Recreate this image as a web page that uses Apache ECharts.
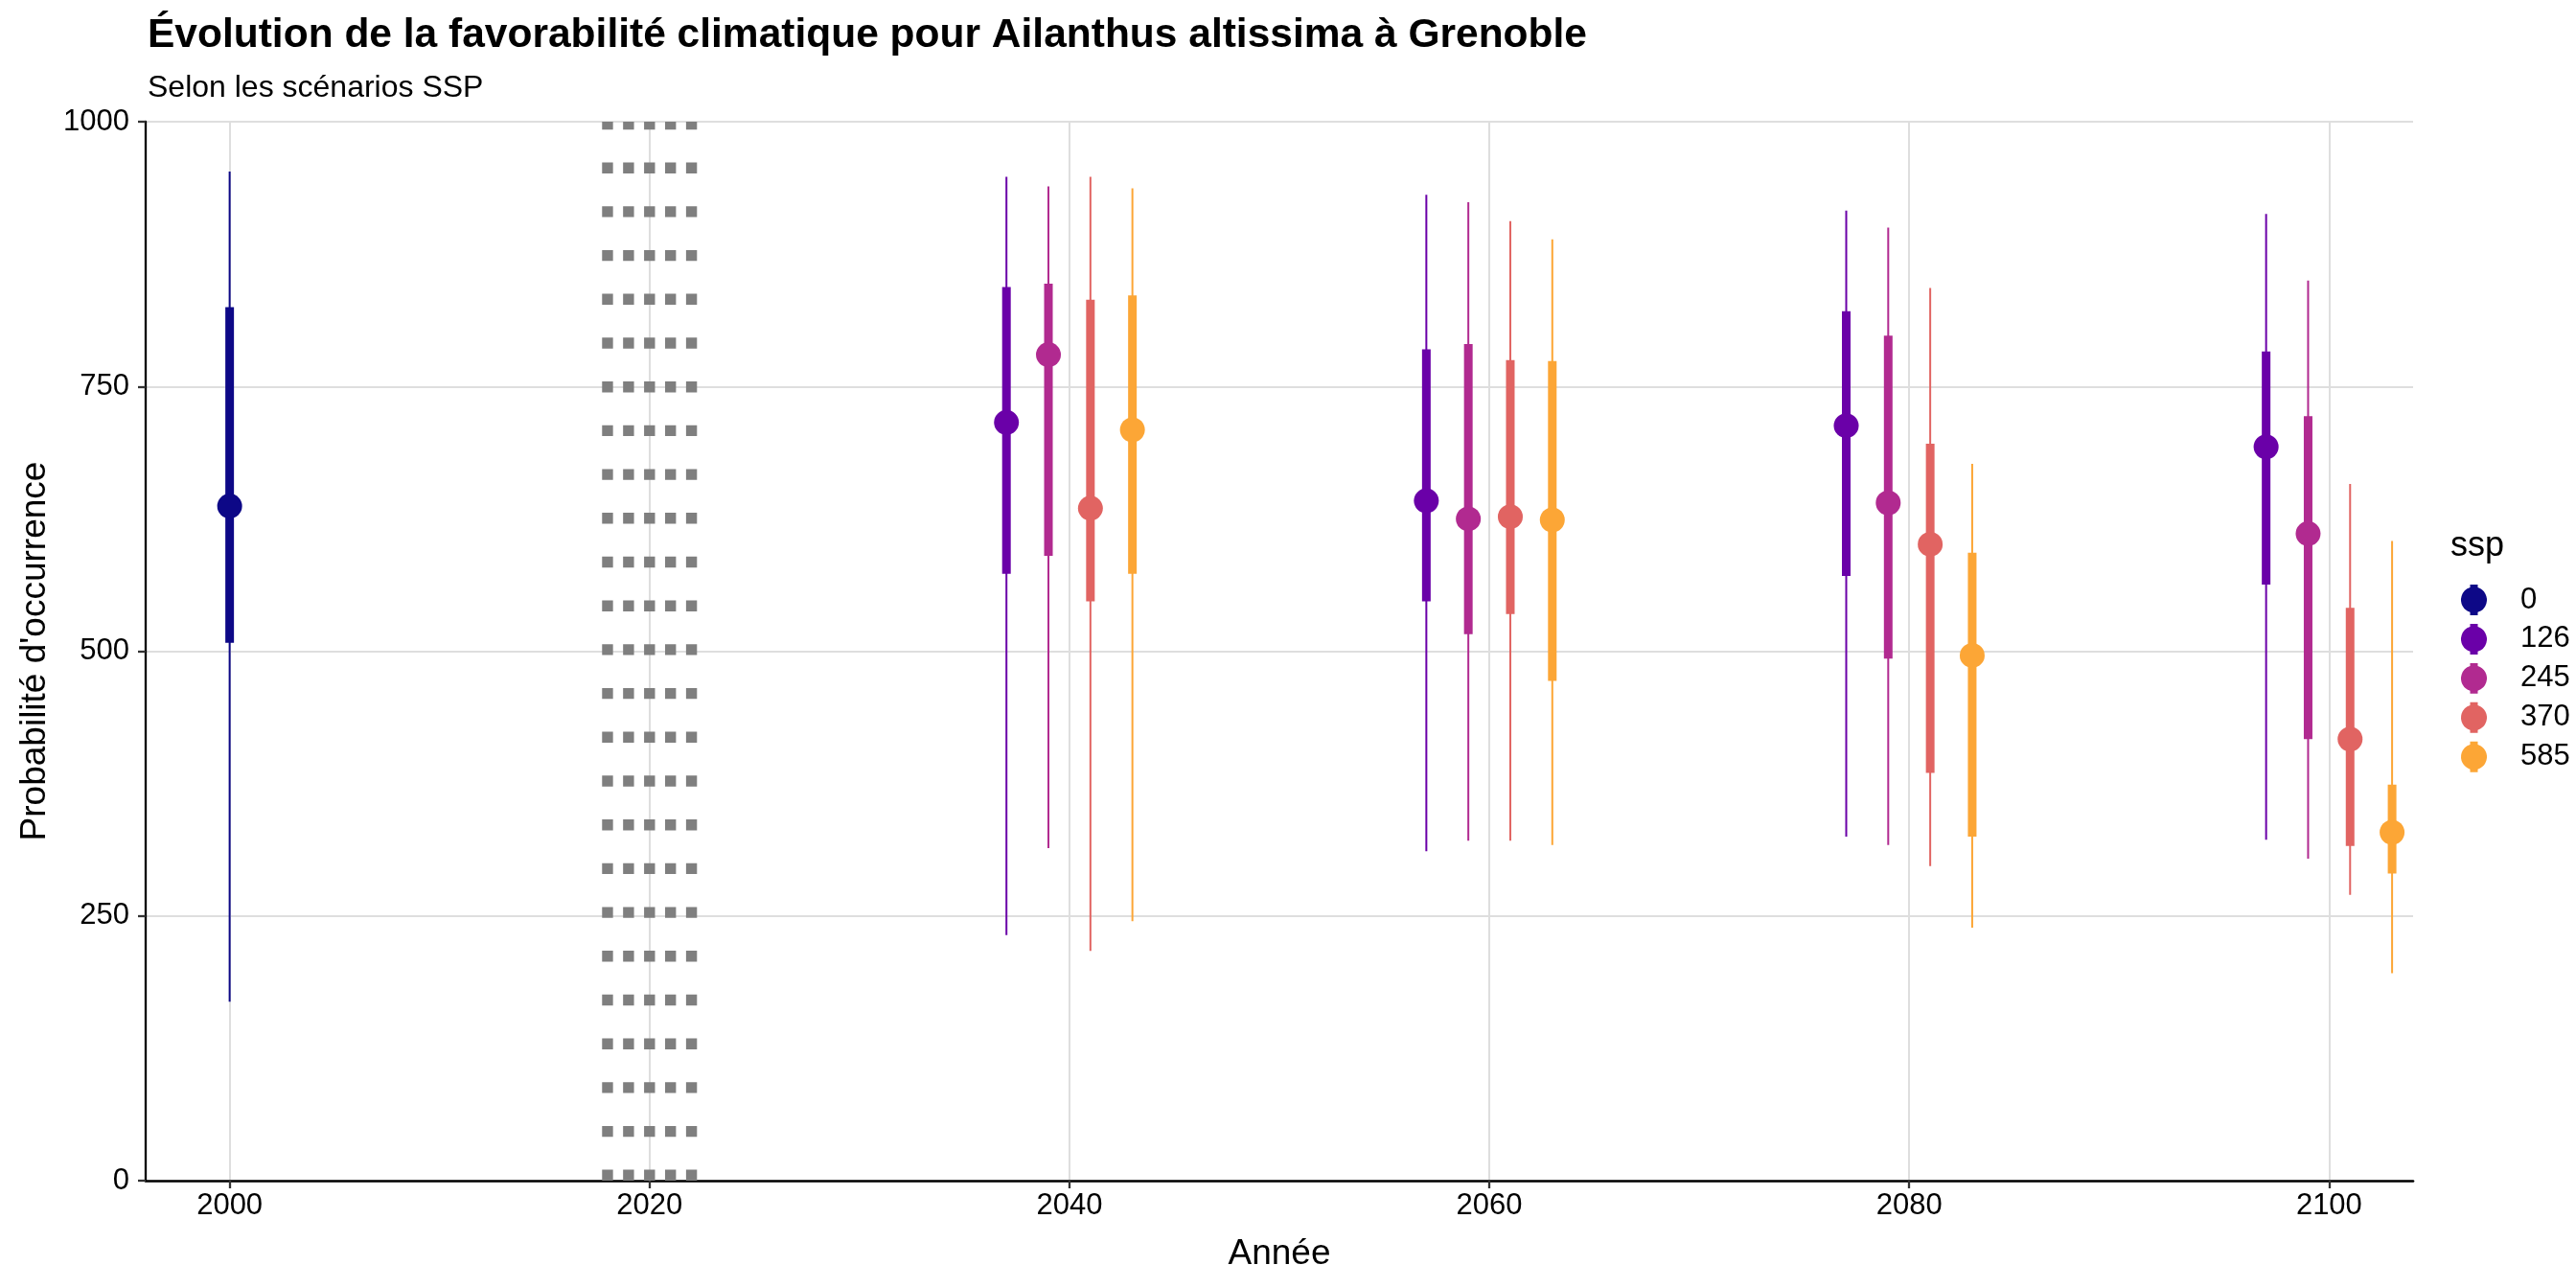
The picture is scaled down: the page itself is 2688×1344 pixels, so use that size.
<!DOCTYPE html>
<html>
<head>
<meta charset="utf-8">
<script src="https://cdn.jsdelivr.net/npm/echarts@6/dist/echarts.min.js"></script>
<style>
  html, body { margin: 0; padding: 0; background: #fff; }
  #chart { width: 2688px; height: 1344px; }
</style>
</head>
<body>
<div id="chart"></div>
<script>
// scenarios and periods
const sspLevels = ["0", "126", "245", "370", "585"];
const baselineYears = [2000];
const futureYears = [2040, 2060, 2080, 2100];
const separatorYears = [2018, 2019, 2020, 2021, 2022];

// one row per period: [median, inner low, inner high, outer low, outer high]
const ssp0 = [[637, 508, 825, 169, 953]];
const ssp126 = [
  [716, 573, 844, 232, 948],
  [642, 547, 785, 311, 931],
  [713, 571, 821, 325, 916],
  [693, 563, 783, 322, 913]
];
const ssp245 = [
  [780, 590, 847, 314, 939],
  [625, 516, 790, 321, 924],
  [640, 493, 798, 317, 900],
  [611, 417, 722, 304, 850]
];
const ssp370 = [
  [635, 547, 832, 217, 948],
  [627, 535, 775, 321, 906],
  [601, 385, 696, 297, 843],
  [417, 316, 541, 270, 658]
];
const ssp585 = [
  [709, 573, 836, 245, 937],
  [624, 472, 774, 317, 889],
  [496, 325, 593, 239, 677],
  [329, 290, 374, 196, 604]
];

const xTicks = [2000, 2020, 2040, 2060, 2080, 2100];

const sspColors = ["#0D0887", "#6A00A8", "#B12A90", "#E16462", "#FCA636"];
const FONT = '"Liberation Sans", Arial, sans-serif';
const DODGE = 2; // years between dodged scenarios

const chart = echarts.init(document.getElementById("chart"));

function buildRows(years, rows, offset) {
  return rows.map((r, i) => [years[i] + offset, ...r]);
}

const sspRows = [
  buildRows(baselineYears, ssp0, 0),
  buildRows(futureYears, ssp126, -1.5 * DODGE),
  buildRows(futureYears, ssp245, -0.5 * DODGE),
  buildRows(futureYears, ssp370, 0.5 * DODGE),
  buildRows(futureYears, ssp585, 1.5 * DODGE)
];

function renderRange(params, api) {
  const x = api.value(0);
  const mid = api.coord([x, api.value(1)]);
  const qLo = api.coord([x, api.value(2)]);
  const qHi = api.coord([x, api.value(3)]);
  const lo = api.coord([x, api.value(4)]);
  const hi = api.coord([x, api.value(5)]);
  const color = api.visual("color");
  return {
    type: "group",
    children: [
      { type: "line", shape: { x1: lo[0], y1: lo[1], x2: hi[0], y2: hi[1] }, style: { stroke: color, lineWidth: 2 } },
      { type: "line", shape: { x1: qLo[0], y1: qLo[1], x2: qHi[0], y2: qHi[1] }, style: { stroke: color, lineWidth: 9 } },
      { type: "circle", shape: { cx: mid[0], cy: mid[1], r: 13 }, style: { fill: color } }
    ]
  };
}

// pointrange-like legend key: circle with a short bar through it
const keyIcon = "path://M9.5,0H17.5V3.1A13.5,13.5 0 0 1 17.5,28.9V32H9.5V28.9A13.5,13.5 0 0 1 9.5,3.1Z";

const separatorSeries = separatorYears.map((yr) => ({
  type: "line",
  name: "sep" + yr,
  silent: true,
  symbol: "none",
  data: [[yr, 0], [yr, 1000]],
  lineStyle: { color: "#7f7f7f", width: 11.4, type: [11.4, 34.3], cap: "butt" },
  z: 1
}));

const rangeSeries = sspLevels.map((lvl, i) => ({
  type: "custom",
  name: lvl,
  renderItem: renderRange,
  itemStyle: { color: sspColors[i] },
  encode: { x: 0, y: [1, 2, 3, 4, 5] },
  data: sspRows[i],
  z: 3
}));

const plain = (v) => String(v);

const options = {
  animation: false,
  backgroundColor: "#fff",
  textStyle: { fontFamily: FONT },
  grid: { left: 152, right: 170, top: 127, bottom: 112, containLabel: false },
  xAxis: {
    type: "value",
    min: 1996,
    max: 2104,
    name: "Année",
    nameLocation: "middle",
    nameGap: 58,
    nameTextStyle: { fontSize: 37, color: "#000", fontFamily: FONT },
    axisLine: { show: true, onZero: false, lineStyle: { color: "#000", width: 2.7 } },
    axisTick: { show: true, length: 8, customValues: xTicks, lineStyle: { color: "#333", width: 2.3 } },
    axisLabel: { customValues: xTicks, formatter: plain, fontSize: 31, color: "#000", margin: 11, fontFamily: FONT },
    splitLine: { show: true, lineStyle: { color: "#dedede", width: 2 } }
  },
  yAxis: {
    type: "value",
    min: 0,
    max: 1000,
    interval: 250,
    name: "Probabilité d'occurrence",
    nameLocation: "middle",
    nameGap: 93,
    nameTextStyle: { fontSize: 37, color: "#000", fontFamily: FONT },
    axisLine: { show: true, lineStyle: { color: "#000", width: 2.3 } },
    axisTick: { show: true, length: 8, lineStyle: { color: "#333", width: 2.3 } },
    axisLabel: { formatter: plain, fontSize: 31, color: "#000", margin: 17, fontFamily: FONT },
    splitLine: { show: true, lineStyle: { color: "#dedede", width: 2 } }
  },
  legend: {
    data: sspLevels,
    orient: "vertical",
    left: 2563,
    top: 605,
    itemWidth: 27,
    itemHeight: 32,
    itemGap: 9,
    icon: keyIcon,
    selectedMode: false,
    formatter: (name) => `{t|${name}}`,
    textStyle: {
      color: "#000",
      fontSize: 31,
      fontFamily: FONT,
      rich: { t: { fontSize: 31, color: "#000", fontFamily: FONT, padding: [0, 0, 0, 30] } }
    }
  },
  graphic: [
    {
      type: "text", x: 154, y: 37,
      style: { text: "Évolution de la favorabilité climatique pour Ailanthus altissima à Grenoble", font: `bold 42.5px ${FONT}`, fill: "#000", verticalAlign: "middle" }
    },
    {
      type: "text", x: 154, y: 92,
      style: { text: "Selon les scénarios SSP", font: `32px ${FONT}`, fill: "#000", verticalAlign: "middle" }
    },
    {
      type: "text", x: 2557, y: 570,
      style: { text: "ssp", font: `36px ${FONT}`, fill: "#000", verticalAlign: "middle" }
    }
  ],
  series: [...separatorSeries, ...rangeSeries]
};

chart.setOption(options);
</script>
</body>
</html>
